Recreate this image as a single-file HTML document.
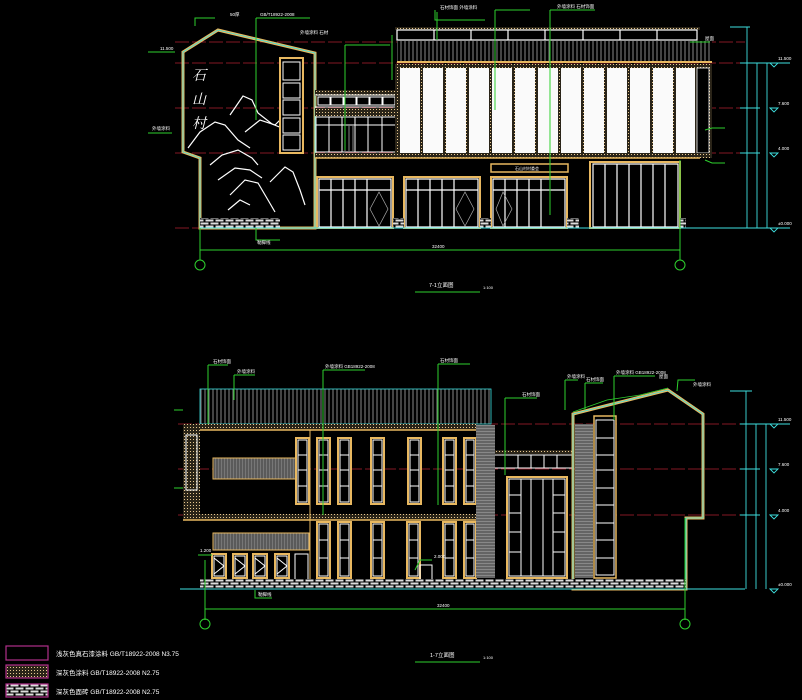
<!DOCTYPE html>
<html><head><meta charset="utf-8"><style>
html,body{margin:0;padding:0;background:#000;}
svg{display:block;}
text{font-family:"Liberation Sans","Noto Sans CJK SC",sans-serif;fill:#fff;}
</style></head><body>
<svg width="802" height="700" viewBox="0 0 802 700" xmlns="http://www.w3.org/2000/svg" font-size="5">
<defs>
<pattern id="slat" width="4" height="10" patternUnits="userSpaceOnUse"><rect width="4" height="10" fill="#000"/><line x1="1" y1="0" x2="1" y2="10" stroke="#aaa" stroke-width="0.8"/></pattern>
<pattern id="gslat" width="3" height="10" patternUnits="userSpaceOnUse"><rect width="3" height="10" fill="#777"/><line x1="1" y1="0" x2="1" y2="10" stroke="#222" stroke-width="0.7"/></pattern>
<pattern id="hslat" width="10" height="3" patternUnits="userSpaceOnUse"><rect width="10" height="3" fill="#888"/><line x1="0" y1="1" x2="10" y2="1" stroke="#222" stroke-width="0.7"/></pattern>
<pattern id="brick" width="10" height="6" patternUnits="userSpaceOnUse"><rect width="10" height="6" fill="#000"/><rect x="0.5" y="0.5" width="8" height="2" fill="#ddd"/><rect x="-4.5" y="3.5" width="8" height="2" fill="#ddd"/><rect x="5.5" y="3.5" width="8" height="2" fill="#ddd"/></pattern>
<pattern id="dots" width="3" height="3" patternUnits="userSpaceOnUse"><rect width="3" height="3" fill="#2a2418"/><rect x="1" y="1" width="1" height="1" fill="#e8c890"/></pattern>
</defs>
<rect width="802" height="700" fill="#000"/>

<!-- ================= TOP ELEVATION ================= -->
<g stroke="#b02030" stroke-width="0.8" stroke-dasharray="14 3">
<line x1="175" y1="42" x2="745" y2="42"/><line x1="175" y1="63" x2="745" y2="63"/>
<line x1="175" y1="108" x2="745" y2="108"/><line x1="175" y1="153" x2="745" y2="153"/>
<line x1="175" y1="228" x2="745" y2="228"/>
</g>
<polygon points="183,52 218,30 315,53 315,228 200,228 200,158 183,152" fill="none" stroke="#e8b860" stroke-width="3"/>
<polygon points="183,52 218,30 315,53 315,228 200,228 200,158 183,152" fill="none" stroke="#3ee0e0" stroke-width="0.8"/>
<text x="192" y="80" font-size="14" font-style="italic" style="font-family:'Noto Serif CJK SC',serif">石</text>
<text x="192" y="104" font-size="14" font-style="italic" style="font-family:'Noto Serif CJK SC',serif">山</text>
<text x="192" y="128" font-size="14" font-style="italic" style="font-family:'Noto Serif CJK SC',serif">村</text>
<g fill="none" stroke="#fff" stroke-width="1.2">
<path d="M188,148 L200,132 L215,122 L225,125 L238,140 L250,148"/>
<path d="M230,115 L243,96 L252,100 L258,113 L272,124 L282,128"/>
<path d="M245,132 L260,120 L275,125 L282,118"/>
<path d="M210,165 L222,155 L238,150 L252,158 L258,165"/>
<path d="M218,180 L235,168 L250,170 L262,178"/>
<path d="M230,195 L245,180 L258,183 L268,200 L275,212"/>
<path d="M270,182 L285,167 L293,172 L300,190 L305,205"/>
<path d="M228,210 L240,200 L250,205"/>
</g>
<rect x="200" y="218" width="80" height="10" fill="url(#brick)"/>
<rect x="280" y="58" width="23" height="95" fill="#000" stroke="#e8b860" stroke-width="2"/>
<g stroke="#fff" stroke-width="1" fill="none">
<rect x="283" y="62" width="17" height="18"/><rect x="283" y="83" width="17" height="15"/><rect x="283" y="100" width="17" height="15"/><rect x="283" y="118" width="17" height="15"/><rect x="283" y="135" width="17" height="15"/>
</g>
<rect x="315" y="90" width="82" height="6" fill="url(#dots)"/>
<g stroke="#fff" stroke-width="1" fill="none"><line x1="315" y1="95" x2="397" y2="95"/><line x1="315" y1="107" x2="397" y2="107"/>
<rect x="318" y="97" width="12" height="8"/><rect x="331" y="97" width="12" height="8"/><rect x="344" y="97" width="12" height="8"/><rect x="357" y="97" width="12" height="8"/><rect x="370" y="97" width="12" height="8"/><rect x="383" y="97" width="12" height="8"/></g>
<rect x="315" y="108" width="82" height="8" fill="url(#dots)"/>
<g stroke="#fff" stroke-width="1" fill="none">
<rect x="316" y="117" width="80" height="35"/><line x1="316" y1="125" x2="396" y2="125"/>
<line x1="329" y1="117" x2="329" y2="152"/><line x1="342" y1="117" x2="342" y2="152"/><line x1="355" y1="117" x2="355" y2="152"/><line x1="368" y1="117" x2="368" y2="152"/><line x1="382" y1="117" x2="382" y2="152"/></g>
<rect x="343" y="126" width="11" height="25" fill="url(#slat)"/>
<rect x="395" y="27" width="305" height="3" fill="url(#dots)"/>
<rect x="397" y="30" width="300" height="10" fill="none" stroke="#fff" stroke-width="1.2"/>
<g stroke="#fff" stroke-width="1.2"><line x1="434" y1="30" x2="434" y2="40"/><line x1="471" y1="30" x2="471" y2="40"/><line x1="508" y1="30" x2="508" y2="40"/><line x1="545" y1="30" x2="545" y2="40"/><line x1="583" y1="30" x2="583" y2="40"/><line x1="620" y1="30" x2="620" y2="40"/><line x1="657" y1="30" x2="657" y2="40"/></g>
<rect x="397" y="41" width="315" height="21" fill="url(#slat)"/>
<line x1="397" y1="62" x2="712" y2="62" stroke="#e8b860" stroke-width="2"/>
<rect x="395" y="64" width="317" height="92" fill="url(#dots)"/>
<g fill="#fafafa">
<rect x="400" y="68" width="20" height="85"/><rect x="423" y="68" width="20" height="85"/><rect x="446" y="68" width="20" height="85"/><rect x="469" y="68" width="20" height="85"/><rect x="492" y="68" width="20" height="85"/><rect x="515" y="68" width="20" height="85"/><rect x="538" y="68" width="20" height="85"/><rect x="561" y="68" width="20" height="85"/><rect x="584" y="68" width="20" height="85"/><rect x="607" y="68" width="20" height="85"/><rect x="630" y="68" width="20" height="85"/><rect x="653" y="68" width="20" height="85"/><rect x="676" y="68" width="19" height="85"/>
</g>
<rect x="697" y="68" width="12" height="85" fill="#000" stroke="#fff" stroke-width="0.8"/>
<rect x="315" y="153" width="397" height="5" fill="url(#dots)"/>
<line x1="315" y1="158" x2="700" y2="158" stroke="#e8b860" stroke-width="1.5"/>
<g fill="#000" stroke="#e8b860" stroke-width="2">
<rect x="317" y="177" width="76" height="51"/><rect x="404" y="177" width="76" height="51"/><rect x="491" y="177" width="76" height="51"/>
<rect x="590" y="162" width="90" height="66"/>
</g>
<g stroke="#fff" stroke-width="1.2" fill="none">
<path d="M319,179h72v48h-72z M319,190h72 M331,179v48 M343,179v48 M355,179v48 M367,179v48"/>
<path d="M406,179h72v48h-72z M406,190h72 M418,179v48 M430,179v48 M442,179v48 M454,179v48"/>
<path d="M493,179h72v48h-72z M493,190h72 M505,179v48 M517,179v48 M529,179v48 M541,179v48"/>
<path d="M593,164h85v63h-85z M605,164v63 M617,164v63 M629,164v63 M641,164v63 M653,164v63 M665,164v63"/>
</g>
<g stroke="#aaa" stroke-width="0.7" fill="none">
<path d="M379,192 L370,209 L379,226 L388,209Z"/><path d="M465,192 L456,209 L465,226 L474,209Z"/><path d="M503,192 L496,209 L503,226 L512,209Z"/>
</g>
<rect x="491" y="164" width="77" height="8" fill="none" stroke="#e8b860" stroke-width="1.5"/>
<text x="515" y="170" font-size="4">石山村村委会</text>
<g fill="url(#brick)"><rect x="393" y="218" width="11" height="10"/><rect x="480" y="218" width="11" height="10"/><rect x="567" y="218" width="12" height="10"/><rect x="680" y="218" width="6" height="10"/></g>
<line x1="200" y1="228" x2="700" y2="228" stroke="#3ee0e0" stroke-width="1"/>
<g stroke="#2ed02e" stroke-width="1" fill="none">
<line x1="200" y1="250" x2="680" y2="250"/><line x1="200" y1="228" x2="200" y2="260"/><line x1="680" y1="160" x2="680" y2="260"/>
<circle cx="200" cy="265" r="5"/><circle cx="680" cy="265" r="5"/>
<line x1="415" y1="292" x2="480" y2="292"/>
<polyline points="256,18 256,120"/><polyline points="256,18 310,18"/>
<polyline points="195,26 195,18 215,18"/><polyline points="435,10 435,20 485,20"/>
<polyline points="437,12 437,40"/><polyline points="495,10 495,110"/><polyline points="495,10 530,10"/>
<polyline points="550,10 550,215"/><polyline points="550,10 595,10"/>
<polyline points="345,45 345,150"/><polyline points="345,45 390,45"/>
<polyline points="392,35 392,80"/><polyline points="256,228 256,240 280,240"/>
<polyline points="148,52 175,52"/><polyline points="148,133 172,133"/>
<polyline points="705,130 712,128 725,128"/><polyline points="705,160 712,163 725,163"/>
<polyline points="690,42 710,42"/>
</g>
<g stroke="#3ee0e0" stroke-width="0.9" fill="none">
<line x1="747" y1="27" x2="747" y2="228"/><line x1="757" y1="63" x2="757" y2="228"/><line x1="767" y1="63" x2="767" y2="228"/>
<line x1="730" y1="27" x2="750" y2="27"/><line x1="740" y1="63" x2="790" y2="63"/><line x1="740" y1="108" x2="760" y2="108"/><line x1="740" y1="153" x2="760" y2="153"/><line x1="700" y1="228" x2="790" y2="228"/>
<path d="M770,63l4,4l4,-4z M770,108l4,4l4,-4z M770,153l4,4l4,-4z M770,228l4,4l4,-4z"/>
</g>
<g font-size="4.5">
<text x="429" y="287" font-size="5.5">7-1立面图</text><text x="483" y="289" font-size="4">1:100</text>
<text x="432" y="248">32400</text>
<text x="778" y="60">11.500</text><text x="778" y="105">7.600</text><text x="778" y="150">4.000</text><text x="778" y="225">±0.000</text>
<text x="230" y="16">50厚</text><text x="260" y="16">GB/T18922-2008</text><text x="440" y="9">石材饰面 外墙涂料</text><text x="557" y="8">外墙涂料 石材饰面</text>
<text x="160" y="50">11.500</text><text x="152" y="130">外墙涂料</text><text x="257" y="244">勒脚线</text><text x="300" y="34">外墙涂料 石材</text><text x="705" y="40">屋面</text>
</g>

<!-- ================= BOTTOM ELEVATION ================= -->
<g stroke="#b02030" stroke-width="0.8" stroke-dasharray="14 3">
<line x1="178" y1="424" x2="745" y2="424"/><line x1="178" y1="469" x2="745" y2="469"/>
<line x1="178" y1="515" x2="745" y2="515"/>
</g>
<rect x="200" y="389" width="291" height="35" fill="url(#slat)"/>
<rect x="200" y="389" width="291" height="35" fill="none" stroke="#3ee0e0" stroke-width="0.8"/>
<rect x="183" y="424" width="293" height="6" fill="url(#dots)"/>
<line x1="183" y1="430" x2="476" y2="430" stroke="#e8b860" stroke-width="1.5"/>
<rect x="183" y="424" width="17" height="95" fill="url(#dots)"/>
<rect x="186" y="435" width="11" height="55" fill="none" stroke="#fff" stroke-width="1"/>
<rect x="183" y="514" width="293" height="6" fill="url(#dots)"/>
<line x1="183" y1="520" x2="476" y2="520" stroke="#e8b860" stroke-width="1.5"/>
<line x1="310" y1="430" x2="310" y2="589" stroke="#e8b860" stroke-width="1"/>
<rect x="213" y="458" width="83" height="21" fill="url(#gslat)" stroke="#e8b860" stroke-width="1"/>
<rect x="213" y="533" width="96" height="17" fill="url(#gslat)" stroke="#e8b860" stroke-width="1"/>
<g fill="#000" stroke="#e8b860" stroke-width="2">
<rect x="296" y="438" width="13" height="66"/><rect x="317" y="438" width="13" height="66"/><rect x="338" y="438" width="13" height="66"/><rect x="371" y="438" width="13" height="66"/><rect x="408" y="438" width="13" height="66"/><rect x="443" y="438" width="13" height="66"/><rect x="464" y="438" width="12" height="66"/>
</g>
<g stroke="#fff" stroke-width="1" fill="none">
<path d="M298,440h9v62h-9z M298,455h9 M298,470h9 M298,486h9"/>
<path d="M319,440h9v62h-9z M319,455h9 M319,470h9 M319,486h9"/>
<path d="M340,440h9v62h-9z M340,455h9 M340,470h9 M340,486h9"/>
<path d="M373,440h9v62h-9z M373,455h9 M373,470h9 M373,486h9"/>
<path d="M410,440h9v62h-9z M410,455h9 M410,470h9 M410,486h9"/>
<path d="M445,440h9v62h-9z M445,455h9 M445,470h9 M445,486h9"/>
<path d="M466,440h8v62h-8z M466,455h8 M466,470h8 M466,486h8"/>
</g>
<g fill="#000" stroke="#e8b860" stroke-width="2">
<rect x="317" y="522" width="13" height="56"/><rect x="338" y="522" width="13" height="56"/><rect x="371" y="522" width="13" height="56"/><rect x="407" y="522" width="13" height="56"/><rect x="443" y="522" width="13" height="56"/><rect x="464" y="522" width="12" height="56"/>
<rect x="212" y="554" width="14" height="24"/><rect x="233" y="554" width="14" height="24"/><rect x="253" y="554" width="14" height="24"/><rect x="275" y="554" width="14" height="24"/>
</g>
<g stroke="#fff" stroke-width="1" fill="none">
<path d="M319,524h9v52h-9z M319,540h9 M319,558h9"/><path d="M340,524h9v52h-9z M340,540h9 M340,558h9"/><path d="M373,524h9v52h-9z M373,540h9 M373,558h9"/><path d="M409,524h9v52h-9z M409,540h9 M409,558h9"/><path d="M445,524h9v52h-9z M445,540h9 M445,558h9"/><path d="M466,524h8v52h-8z M466,540h8 M466,558h8"/>
<path d="M214,556h10v20h-10z M214,558l10,8l-10,8"/><path d="M235,556h10v20h-10z M235,558l10,8l-10,8"/><path d="M255,556h10v20h-10z M255,558l10,8l-10,8"/><path d="M277,556h10v20h-10z M277,558l10,8l-10,8"/>
<path d="M295,589v-35h13v35"/><path d="M420,589v-24h12v24"/>
</g>
<rect x="476" y="425" width="19" height="153" fill="url(#hslat)"/>
<rect x="495" y="450" width="78" height="4" fill="url(#dots)"/>
<g stroke="#fff" stroke-width="1" fill="none"><line x1="495" y1="455" x2="573" y2="455"/><line x1="495" y1="468" x2="573" y2="468"/>
<path d="M505,455v13 M518,455v13 M531,455v13 M544,455v13 M557,455v13"/></g>
<rect x="507" y="477" width="60" height="101" fill="#000" stroke="#e8b860" stroke-width="2"/>
<g stroke="#fff" stroke-width="1" fill="none"><path d="M509,479h56v97h-56z M521,479v97 M531,479v97 M543,479v97 M553,479v97 M509,495h12 M509,513h12 M509,532h12 M509,552h12 M553,495h12 M553,513h12 M553,532h12 M553,552h12"/></g>
<polygon points="573,414 668,390 703,414 703,518 686,518 686,589 573,589" fill="none" stroke="#e8b860" stroke-width="3"/>
<polygon points="573,414 668,390 703,414 703,518 686,518 686,589 573,589" fill="none" stroke="#3ee0e0" stroke-width="0.8"/>
<polyline points="573,412 607,400 640,395 668,388" fill="none" stroke="#2ed02e" stroke-width="0.8"/>
<rect x="575" y="424" width="18" height="154" fill="url(#hslat)"/>
<rect x="594" y="416" width="22" height="162" fill="#000" stroke="#e8b860" stroke-width="1.5"/>
<g stroke="#fff" stroke-width="1" fill="none"><path d="M596,420h18v155h-18z M596,438h18 M596,455h18 M596,470h18 M596,488h18 M596,505h18 M596,523h18 M596,540h18 M596,558h18"/></g>
<rect x="200" y="579" width="486" height="10" fill="url(#brick)"/>
<line x1="180" y1="589" x2="745" y2="589" stroke="#3ee0e0" stroke-width="1"/>
<g stroke="#2ed02e" stroke-width="1" fill="none">
<line x1="205" y1="609" x2="685" y2="609"/><line x1="205" y1="560" x2="205" y2="620"/><line x1="685" y1="518" x2="685" y2="620"/>
<circle cx="205" cy="624" r="5"/><circle cx="685" cy="624" r="5"/>
<line x1="415" y1="662" x2="480" y2="662"/>
<polyline points="208,365 208,424"/><polyline points="208,365 228,365"/><polyline points="234,375 234,400"/><polyline points="234,375 255,375"/>
<polyline points="323,370 323,515"/><polyline points="323,370 365,370"/><polyline points="438,364 438,505"/><polyline points="438,364 470,364"/>
<polyline points="505,398 505,475"/><polyline points="505,398 537,398"/><polyline points="565,380 565,410"/><polyline points="565,380 578,380"/>
<polyline points="585,383 585,410"/><polyline points="585,383 603,383"/><polyline points="614,376 614,420"/><polyline points="614,376 655,376"/>
<polyline points="677,391 678,380 695,380"/><polyline points="255,590 255,598 272,598"/><polyline points="198,555 212,555"/>
<polyline points="415,570 420,560 432,560"/><polyline points="174,410 183,410"/><polyline points="174,488 183,488"/>
</g>
<g stroke="#3ee0e0" stroke-width="0.9" fill="none">
<line x1="746" y1="391" x2="746" y2="589"/><line x1="756" y1="424" x2="756" y2="589"/><line x1="766" y1="424" x2="766" y2="589"/>
<line x1="730" y1="391" x2="752" y2="391"/><line x1="740" y1="424" x2="790" y2="424"/><line x1="740" y1="469" x2="760" y2="469"/><line x1="740" y1="515" x2="760" y2="515"/>
<path d="M770,424l4,4l4,-4z M770,469l4,4l4,-4z M770,515l4,4l4,-4z M770,589l4,4l4,-4z"/>
</g>
<g font-size="4.5">
<text x="430" y="657" font-size="5.5">1-7立面图</text><text x="483" y="659" font-size="4">1:100</text><text x="437" y="607">32400</text>
<text x="778" y="421">11.500</text><text x="778" y="466">7.600</text><text x="778" y="512">4.000</text><text x="778" y="586">±0.000</text>
<text x="213" y="363">石材饰面</text><text x="237" y="373">外墙涂料</text><text x="325" y="368">外墙涂料 GB18922-2008</text><text x="440" y="362">石材饰面</text>
<text x="522" y="396">石材饰面</text><text x="567" y="378">外墙涂料</text><text x="586" y="381">石材饰面</text><text x="616" y="374">外墙涂料 GB18922-2008</text>
<text x="659" y="378">屋面</text><text x="693" y="386">外墙涂料</text><text x="258" y="596">勒脚线</text><text x="434" y="558">2.000</text><text x="200" y="552">1.200</text>
</g>

<g stroke="#b0308a" stroke-width="1.2">
<rect x="6" y="646" width="42" height="14" fill="none"/>
<rect x="6" y="665" width="42" height="13" fill="url(#dots)"/>
<rect x="6" y="684" width="42" height="13" fill="url(#brick)"/>
</g>
<g font-size="6.5">
<text x="56" y="656">浅灰色真石漆涂料 GB/T18922-2008 N3.75</text>
<text x="56" y="675">深灰色涂料 GB/T18922-2008 N2.75</text>
<text x="56" y="694">深灰色面砖 GB/T18922-2008 N2.75</text>
</g>
</svg>
</body></html>
